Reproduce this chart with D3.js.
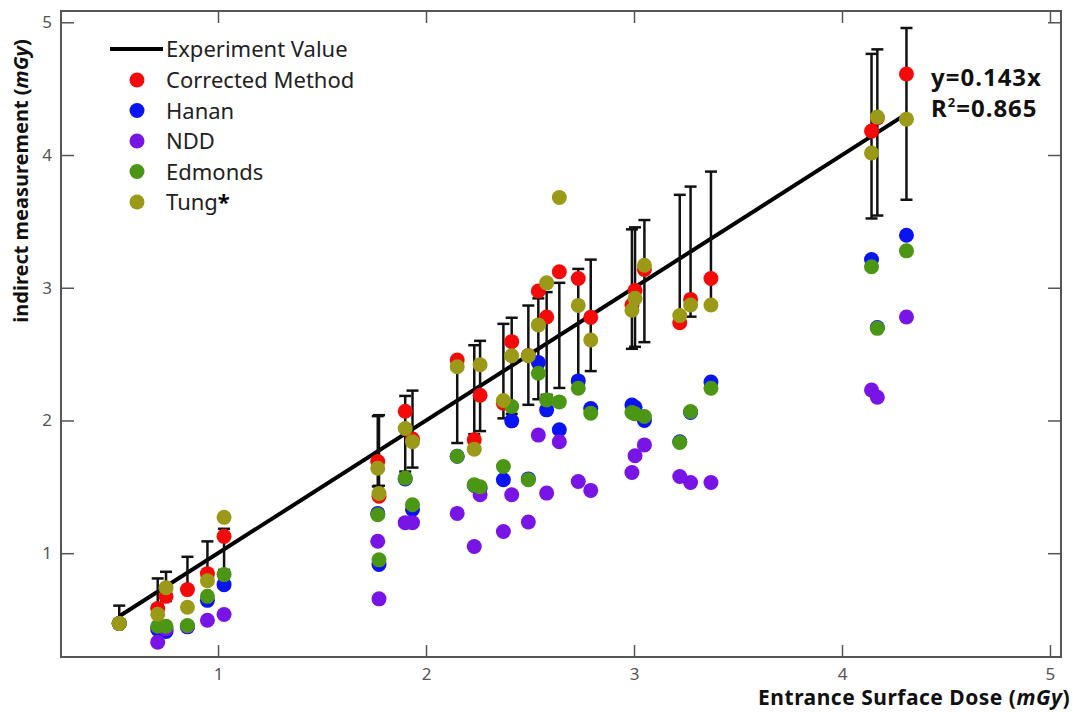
<!DOCTYPE html>
<html>
<head>
  <meta charset="utf-8">
  <title>ESD vs indirect measurement</title>
  <style type="text/css">
    body { margin: 0; background: white; }
    text { font-family: "Noto Sans", "Open Sans", sans-serif; }
    .tick text { fill: #555; font-size: 17px; }
    .tick line { stroke: #555; stroke-width: 1.5; }
    .domain { stroke: none; }
  </style>
</head>
<body>
<script src="https://cdnjs.cloudflare.com/ajax/libs/d3/7.8.5/d3.min.js"></script>
<script>
// entrance surface dose per patient (mGy)
var dose      = [0.525, 0.71, 0.75, 0.853, 0.949, 1.029, 1.768, 1.774, 1.90, 1.935, 2.15, 2.232, 2.26, 2.372, 2.412,
                 2.492, 2.54, 2.58, 2.641, 2.732, 2.792, 2.99, 3.005, 3.05, 3.22, 3.272, 3.37, 4.142, 4.17, 4.31];
// error bar half width on the experiment value
var errHalf   = [0.08, 0.10, 0.11, 0.12, 0.14, 0.155, 0.265, 0.266, 0.285, 0.29, 0.32, 0.335, 0.34, 0.356, 0.362,
                 0.374, 0.38, 0.387, 0.396, 0.41, 0.42, 0.45, 0.45, 0.46, 0.48, 0.49, 0.505, 0.62, 0.626, 0.647];
var corrected = [0.47, 0.583, 0.675, 0.726, 0.846, 1.127, 1.69, 1.43, 2.07, 1.86, 2.456, 1.854, 2.19, 2.13, 2.594,
                 2.49, 2.975, 2.78, 3.12, 3.07, 2.777, 2.87, 2.98, 3.138, 2.736, 2.912, 3.07, 4.18, 4.28, 4.61];
var hanan     = [0.47, 0.425, 0.41, 0.445, 0.645, 0.763, 1.30, 0.915, 1.56, 1.33, 1.73, 1.51, 1.49, 1.553, 1.997,
                 1.56, 2.436, 2.08, 1.93, 2.298, 2.09, 2.117, 2.10, 2.00, 1.84, 2.06, 2.29, 3.213, 2.70, 3.396];
var ndd       = [0.47, 0.33, 0.43, 0.45, 0.495, 0.538, 1.09, 0.656, 1.23, 1.23, 1.30, 1.05, 1.44, 1.164, 1.44,
                 1.235, 1.89, 1.453, 1.84, 1.54, 1.473, 1.608, 1.734, 1.816, 1.578, 1.533, 1.533, 2.23, 2.175, 2.78];
var edmonds   = [0.47, 0.45, 0.45, 0.455, 0.675, 0.839, 1.29, 0.95, 1.566, 1.365, 1.73, 1.515, 1.50, 1.653, 2.105,
                 1.553, 2.356, 2.155, 2.14, 2.243, 2.055, 2.06, 2.05, 2.03, 1.834, 2.067, 2.243, 3.158, 2.694, 3.278];
var tung      = [0.47, 0.54, 0.74, 0.593, 0.793, 1.27, 1.64, 1.45, 1.94, 1.84, 2.405, 1.784, 2.42, 2.15, 2.488,
                 2.488, 2.72, 3.037, 3.68, 2.867, 2.606, 2.83, 2.92, 3.17, 2.79, 2.87, 2.87, 4.015, 4.286, 4.27];

var seriesNames  = ['Corrected Method', 'Hanan', 'NDD', 'Edmonds', 'Tung'];
var seriesValues = [corrected, hanan, ndd, edmonds, tung];
var seriesColors = ['#f50a0a', '#0a14f0', '#7814e6', '#4b9614', '#9a9a18'];
var tickValues   = [1, 2, 3, 4, 5];

var W = 1073, H = 713;
// plot box (note: "top" is taken by window.top, so prefixed names)
var pLeft = 61, pRight = 1061, pTop = 11, pBottom = 657;

var svg = d3.select('body').append('svg')
  .attr('width', W)
  .attr('height', H);

var x = d3.scaleLinear().domain([0.245, 5.053]).range([pLeft, pRight]);
var y = d3.scaleLinear().domain([0.218, 5.085]).range([pBottom, pTop]);

// axes, ticks pointing inwards on all four sides
svg.append('g').attr('transform', 'translate(0,' + pBottom + ')')
  .call(d3.axisBottom(x).tickValues(tickValues).tickSize(-12).tickPadding(11).tickFormat(d3.format('d')));
svg.append('g').attr('transform', 'translate(0,' + pTop + ')')
  .call(d3.axisTop(x).tickValues(tickValues).tickSize(-12).tickFormat(''));
svg.append('g').attr('transform', 'translate(' + pLeft + ',0)')
  .call(d3.axisLeft(y).tickValues(tickValues).tickSize(-13).tickPadding(9).tickFormat(d3.format('d')));
svg.append('g').attr('transform', 'translate(' + pRight + ',0)')
  .call(d3.axisRight(y).tickValues(tickValues).tickSize(-13).tickFormat(''));

svg.append('rect')
  .attr('x', pLeft).attr('y', pTop)
  .attr('width', pRight - pLeft).attr('height', pBottom - pTop)
  .attr('fill', 'none').attr('stroke', '#555').attr('stroke-width', 2);

// experiment value line (y = x)
var ext = d3.extent(dose);
svg.append('line')
  .attr('x1', x(ext[0])).attr('y1', y(ext[0]))
  .attr('x2', x(ext[1])).attr('y2', y(ext[1]))
  .attr('stroke', 'black').attr('stroke-width', 4);

// error bars
var bars = svg.append('g').attr('stroke', '#111').attr('stroke-width', 2.5)
  .selectAll('g').data(dose).enter().append('g');
bars.append('line')
  .attr('x1', function(d){ return x(d); }).attr('x2', function(d){ return x(d); })
  .attr('y1', function(d, i){ return y(d + errHalf[i]); })
  .attr('y2', function(d, i){ return y(d - errHalf[i]); });
bars.append('line')
  .attr('x1', function(d){ return x(d) - 6; }).attr('x2', function(d){ return x(d) + 6; })
  .attr('y1', function(d, i){ return y(d + errHalf[i]); })
  .attr('y2', function(d, i){ return y(d + errHalf[i]); });
bars.append('line')
  .attr('x1', function(d){ return x(d) - 6; }).attr('x2', function(d){ return x(d) + 6; })
  .attr('y1', function(d, i){ return y(d - errHalf[i]); })
  .attr('y2', function(d, i){ return y(d - errHalf[i]); });

// points of every method
seriesValues.forEach(function(vals, s){
  svg.append('g').selectAll('circle')
    .data(vals).enter().append('circle')
    .attr('cx', function(d, i){ return x(dose[i]); })
    .attr('cy', function(d){ return y(d); })
    .attr('r', 7.5)
    .attr('fill', seriesColors[s]);
});

// legend
var lg = svg.append('g');
lg.append('line').attr('x1', 110).attr('x2', 163).attr('y1', 49).attr('y2', 49)
  .attr('stroke', 'black').attr('stroke-width', 4);
lg.append('text').attr('x', 166).attr('y', 57).attr('font-size', 22).attr('fill', '#222')
  .text('Experiment Value');
seriesNames.forEach(function(name, s){
  var ly = 80 + s * 30.5;
  lg.append('circle').attr('cx', 137).attr('cy', ly).attr('r', 7.5).attr('fill', seriesColors[s]);
  var t = lg.append('text').attr('x', 166).attr('y', ly + 8).attr('font-size', 22).attr('fill', '#222');
  t.append('tspan').text(name);
  if (name == 'Tung') t.append('tspan').attr('font-weight', 'bold').attr('fill', 'black').text('*');
});

// fit annotation
var fit = svg.append('g').attr('font-size', 24).attr('font-weight', 'bold').attr('fill', '#111')
  .attr('letter-spacing', 1);
fit.append('text').attr('x', 931).attr('y', 86).text('y=0.143x');
var r2 = fit.append('text').attr('x', 931).attr('y', 117);
r2.append('tspan').text('R');
r2.append('tspan').attr('font-size', 13).attr('dy', -10).text('2');
r2.append('tspan').attr('dy', 10).text('=0.865');

// axis titles
var xt = svg.append('text').attr('x', 1070).attr('y', 705).attr('text-anchor', 'end')
  .attr('font-size', 21).attr('font-weight', 'bold').attr('fill', '#111').attr('letter-spacing', 0.5);
xt.append('tspan').text('Entrance Surface Dose (');
xt.append('tspan').attr('font-style', 'italic').text('mGy');
xt.append('tspan').text(')');

var yt = svg.append('text').attr('transform', 'translate(28,181) rotate(-90)').attr('text-anchor', 'middle')
  .attr('font-size', 20).attr('font-weight', 'bold').attr('fill', '#111');
yt.append('tspan').text('indirect measurement (');
yt.append('tspan').attr('font-style', 'italic').text('mGy');
yt.append('tspan').text(')');
</script>
</body>
</html>
